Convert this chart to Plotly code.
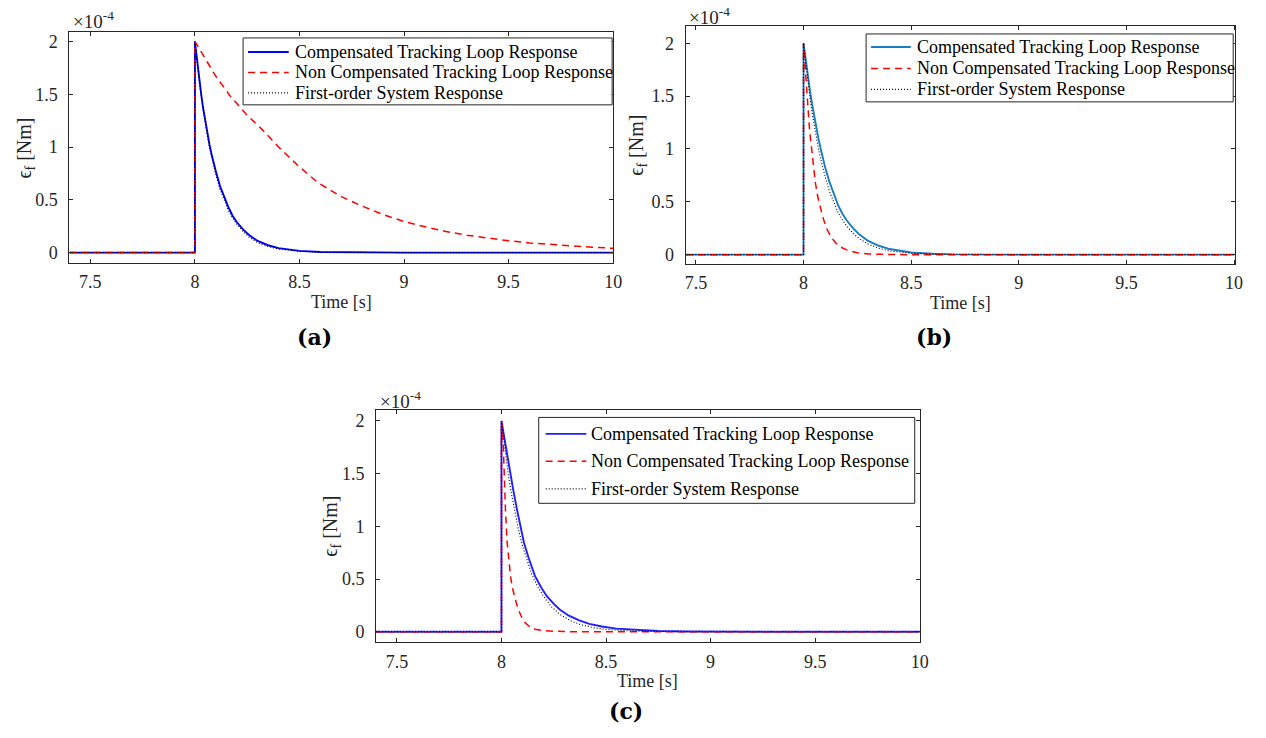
import plotly.graph_objects as go

W, H = 1266, 738

# ---------------- data (error values in units of 1e-4 Nm) ----------------
# (a)
t_a_comp = [7.4, 8.0, 8.0, 8.01, 8.02, 8.03, 8.04, 8.05, 8.06, 8.07, 8.08, 8.09, 8.10, 8.12, 8.14,
            8.16, 8.18, 8.20, 8.23, 8.26, 8.30, 8.35, 8.40, 8.45, 8.50, 8.60, 8.80, 9.0, 10.0]
e_a_comp = [0, 0, 2.0, 1.82, 1.65, 1.50, 1.36, 1.24, 1.12, 1.02, 0.93, 0.84, 0.77, 0.63, 0.52,
            0.43, 0.35, 0.29, 0.22, 0.165, 0.11, 0.07, 0.043, 0.026, 0.016, 0.006, 0.001, 0, 0]
t_a_nc = [7.4, 8.0, 8.0, 8.05, 8.10, 8.17, 8.25, 8.32, 8.40, 8.49, 8.59, 8.70, 8.80, 8.90, 9.00,
          9.10, 9.20, 9.30, 9.40, 9.50, 9.60, 9.70, 9.80, 9.90, 10.0]
e_a_nc = [0, 0, 2.0, 1.83, 1.67, 1.48, 1.30, 1.17, 1.00, 0.83, 0.66, 0.53, 0.44, 0.36, 0.295,
          0.245, 0.20, 0.165, 0.135, 0.112, 0.092, 0.076, 0.062, 0.051, 0.041]
t_a_fo = [7.4, 8.0, 8.0, 8.01, 8.02, 8.03, 8.04, 8.05, 8.06, 8.07, 8.08, 8.09, 8.10, 8.12, 8.14,
          8.16, 8.18, 8.20, 8.23, 8.26, 8.30, 8.35, 8.40, 8.45, 8.50, 8.60, 8.80, 9.0, 10.0]
e_a_fo = [0, 0, 2.0, 1.80, 1.63, 1.48, 1.34, 1.21, 1.10, 0.99, 0.90, 0.81, 0.74, 0.60, 0.49,
          0.40, 0.33, 0.27, 0.20, 0.145, 0.095, 0.057, 0.034, 0.02, 0.012, 0.004, 0.0005, 0, 0]

# (b)
t_b_comp = [7.4, 8.0, 8.0, 8.01, 8.02, 8.03, 8.04, 8.05, 8.06, 8.07, 8.08, 8.09, 8.10, 8.12, 8.14,
            8.16, 8.18, 8.20, 8.23, 8.26, 8.30, 8.35, 8.40, 8.45, 8.50, 8.60, 8.70, 8.90, 9.0, 10.0]
e_b_comp = [0, 0, 2.0, 1.84, 1.69, 1.55, 1.42, 1.30, 1.19, 1.09, 1.00, 0.91, 0.83, 0.69, 0.57,
            0.47, 0.39, 0.325, 0.25, 0.19, 0.13, 0.084, 0.053, 0.034, 0.021, 0.009, 0.003, 0.0005, 0, 0]
t_b_nc = [7.4, 8.0, 8.0, 8.008, 8.017, 8.028, 8.043, 8.055, 8.066, 8.077, 8.089, 8.10, 8.109,
          8.13, 8.15, 8.175, 8.20, 8.25, 8.30, 8.40, 8.5, 10.0]
e_b_nc = [0, 0, 2.0, 1.80, 1.50, 1.18, 0.87, 0.68, 0.55, 0.45, 0.36, 0.29, 0.24,
          0.16, 0.11, 0.07, 0.045, 0.018, 0.007, 0.001, 0, 0]
t_b_fo = [7.4, 8.0, 8.0, 8.01, 8.02, 8.03, 8.04, 8.05, 8.06, 8.07, 8.08, 8.09, 8.10, 8.12, 8.14,
          8.16, 8.18, 8.20, 8.23, 8.26, 8.30, 8.35, 8.40, 8.45, 8.50, 8.60, 8.80, 9.0, 10.0]
e_b_fo = [0, 0, 2.0, 1.81, 1.64, 1.48, 1.34, 1.21, 1.10, 0.99, 0.90, 0.81, 0.74, 0.60, 0.49,
          0.40, 0.33, 0.27, 0.20, 0.15, 0.10, 0.06, 0.036, 0.022, 0.013, 0.005, 0.001, 0, 0]

# (c)
t_c_comp = [7.4, 8.0, 8.0, 8.01, 8.021, 8.03, 8.043, 8.055, 8.072, 8.09, 8.107, 8.13, 8.16, 8.19,
            8.216, 8.25, 8.28, 8.32, 8.369, 8.42, 8.48, 8.55, 8.65, 8.75, 8.90, 9.10, 9.30, 10.0]
e_c_comp = [0, 0, 2.0, 1.88, 1.77, 1.64, 1.48, 1.36, 1.18, 1.00, 0.85, 0.70, 0.53, 0.42,
            0.34, 0.265, 0.21, 0.155, 0.11, 0.075, 0.05, 0.03, 0.016, 0.008, 0.003, 0.001, 0, 0]
t_c_nc = [7.4, 8.0, 8.0, 8.004, 8.008, 8.013, 8.019, 8.027, 8.035, 8.043, 8.052, 8.061, 8.07,
          8.08, 8.095, 8.112, 8.13, 8.16, 8.20, 8.30, 8.40, 10.0]
e_c_nc = [0, 0, 2.0, 1.95, 1.80, 1.48, 1.16, 0.85, 0.66, 0.53, 0.42, 0.34, 0.28,
          0.215, 0.145, 0.09, 0.055, 0.025, 0.01, 0.002, 0, 0]
t_c_fo = [7.4, 8.0, 8.0, 8.01, 8.02, 8.03, 8.045, 8.06, 8.08, 8.10, 8.12, 8.144, 8.17, 8.20,
          8.24, 8.28, 8.33, 8.38, 8.44, 8.50, 8.60, 8.70, 8.90, 9.10, 10.0]
e_c_fo = [0, 0, 2.0, 1.83, 1.67, 1.53, 1.34, 1.17, 0.98, 0.82, 0.69, 0.55, 0.44, 0.34,
          0.235, 0.165, 0.105, 0.067, 0.039, 0.023, 0.01, 0.004, 0.001, 0, 0]

x_ticks = [7.5, 8, 8.5, 9, 9.5, 10]
x_tick_text = ["7.5", "8", "8.5", "9", "9.5", "10"]
y_ticks = [0, 0.5, 1, 1.5, 2]
y_tick_text = ["0", "0.5", "1", "1.5", "2"]

legend_labels = ["Compensated Tracking Loop Response",
                 "Non Compensated Tracking Loop Response",
                 "First-order System Response"]

# ---------------- layout helpers ----------------
SERIF = "Liberation Serif"
AXC = "#262626"
RED = "#ff0000"
DOT = "1px,2px"
DASH = "7px,5px"


def fx(p):
    return p / W


def fy(p):
    return 1 - p / H


panels = [
    dict(key="", box=(69, 617, 32, 263), xr=[7.4, 10.0], yr=[-0.095, 2.09], blue="#0000ff",
         series=[(t_a_comp, e_a_comp), (t_a_nc, e_a_nc), (t_a_fo, e_a_fo)],
         leg=dict(box=(244, 616, 38, 105), x0=249, x1=290, tx=294, rows=(52, 72.5, 93)),
         ylab=(25, 148), exp=(71, 20), xlab=(343, 302), cap=("(a)", 316, 337)),
    dict(key="2", box=(690, 1244, 26, 264), xr=[7.452, 10.005], yr=[-0.085, 2.163], blue="#1a7cc2",
         series=[(t_b_comp, e_b_comp), (t_b_nc, e_b_nc), (t_b_fo, e_b_fo)],
         leg=dict(box=(872, 1242, 34, 102), x0=877, x1=917, tx=921, rows=(47, 68.5, 89.5)),
         ylab=(642, 145), exp=(691, 16), xlab=(967, 303), cap=("(b)", 940, 337)),
    dict(key="3", box=(378, 926, 411, 643), xr=[7.4, 10.0], yr=[-0.098, 2.1], blue="#1f1fff",
         series=[(t_c_comp, e_c_comp), (t_c_nc, e_c_nc), (t_c_fo, e_c_fo)],
         leg=dict(box=(542, 921, 418, 504), x0=549, x1=590, tx=593, rows=(434.5, 462, 489.5)),
         ylab=(333, 527), exp=(380, 401), xlab=(652, 682), cap=("(c)", 630, 712)),
]

fig = go.Figure()
shapes = []
annotations = []
layout = {}

for p in panels:
    k = p["key"]
    l, r, t, b = p["box"]
    xa, ya = "x" + k, "y" + k
    styles = [
        dict(color=p["blue"], width=1.9),
        dict(color=RED, width=1.5, dash=DASH),
        dict(color="#000000", width=1.1, dash=DOT),
    ]
    for (tt, ee), st, name in zip(p["series"], styles, legend_labels):
        fig.add_trace(go.Scatter(x=tt, y=ee, mode="lines", line=st, name=name,
                                 xaxis=xa, yaxis=ya, showlegend=False, hoverinfo="skip"))

    common = dict(showline=True, linecolor=AXC, linewidth=1, mirror="ticks", ticks="inside",
                  ticklen=4, tickwidth=1, tickcolor=AXC, showgrid=False, zeroline=False,
                  tickfont=dict(family=SERIF, size=18, color=AXC))
    layout["xaxis" + k] = dict(common, domain=[fx(l), fx(r)], range=p["xr"], anchor=ya,
                               tickmode="array", tickvals=x_ticks, ticktext=x_tick_text,
                               ticklabelstandoff=3)
    layout["yaxis" + k] = dict(common, domain=[fy(b), fy(t)], range=p["yr"], anchor=xa,
                               tickmode="array", tickvals=y_ticks, ticktext=y_tick_text,
                               ticklabelstandoff=7)

    # legend box with line samples and labels
    lg = p["leg"]
    bl, br, bt, bb = lg["box"]
    shapes.append(dict(type="rect", xref="paper", yref="paper", x0=fx(bl), x1=fx(br),
                       y0=fy(bb), y1=fy(bt), line=dict(color=AXC, width=1),
                       fillcolor="white", layer="above"))
    for st, row, name in zip(styles, lg["rows"], legend_labels):
        shapes.append(dict(type="line", xref="paper", yref="paper", x0=fx(lg["x0"]),
                           x1=fx(lg["x1"]), y0=fy(row), y1=fy(row), line=st, layer="above"))
        annotations.append(dict(text=name, xref="paper", yref="paper", x=fx(lg["tx"]),
                                y=fy(row), xanchor="left", yanchor="middle", showarrow=False,
                                font=dict(family=SERIF, size=18, color="#000000")))

    # axis labels, exponent and sub-figure caption
    annotations.append(dict(text="ϵ<sub>f</sub> [Nm]", textangle=-90, xref="paper", yref="paper",
                            x=fx(p["ylab"][0]), y=fy(p["ylab"][1]), xanchor="center",
                            yanchor="middle", showarrow=False,
                            font=dict(family=SERIF, size=20, color=AXC)))
    annotations.append(dict(text="×10<sup>-4</sup>", xref="paper", yref="paper",
                            x=fx(p["exp"][0]), y=fy(p["exp"][1]), xanchor="left",
                            yanchor="middle", showarrow=False,
                            font=dict(family=SERIF, size=19, color=AXC)))
    annotations.append(dict(text="Time [s]", xref="paper", yref="paper", x=fx(p["xlab"][0]),
                            y=fy(p["xlab"][1]), xanchor="center", yanchor="middle",
                            showarrow=False, font=dict(family=SERIF, size=18, color=AXC)))
    annotations.append(dict(text="<b>%s</b>" % p["cap"][0], xref="paper", yref="paper",
                            x=fx(p["cap"][1]), y=fy(p["cap"][2]), xanchor="center",
                            yanchor="middle", showarrow=False,
                            font=dict(family="DejaVu Serif", size=22, color="#000000")))

fig.update_layout(width=W, height=H, margin=dict(l=0, r=0, t=0, b=0),
                  font=dict(family=SERIF, size=18, color=AXC),
                  paper_bgcolor="white", plot_bgcolor="white", showlegend=False,
                  shapes=shapes, annotations=annotations, **layout)

fig.write_html("out.html")
